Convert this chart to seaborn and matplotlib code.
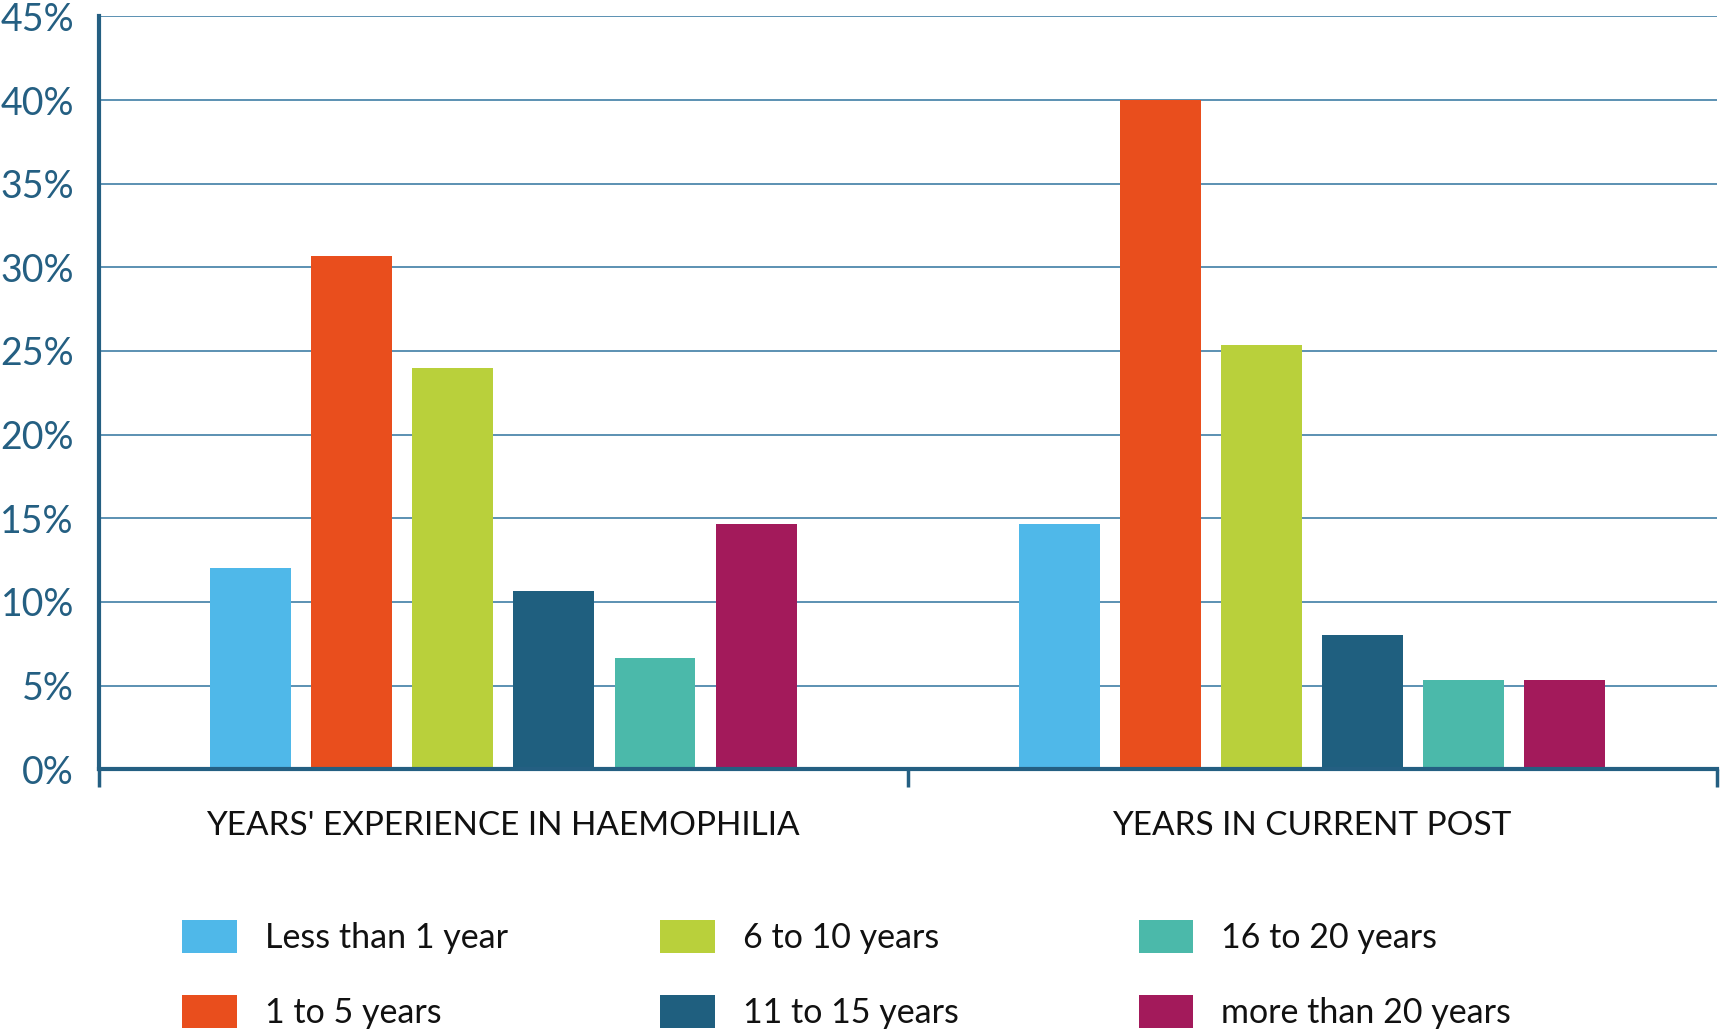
import matplotlib
matplotlib.use("Agg")
import matplotlib.pyplot as plt
from matplotlib.patches import Patch
import seaborn as sns
import pandas as pd

groups = ["YEARS' EXPERIENCE IN HAEMOPHILIA", "YEARS IN CURRENT POST"]
categories = ["Less than 1 year", "1 to 5 years", "6 to 10 years",
              "11 to 15 years", "16 to 20 years", "more than 20 years"]
experience_values = [12.0, 30.67, 24.0, 10.67, 6.67, 14.67]
post_values = [14.67, 40.0, 25.33, 8.0, 5.33, 5.33]
colors = ["#4FB8E9", "#E94E1D", "#B9D03B", "#1F5F7F", "#4BB9AA", "#A31A5B"]
y_ticks = [0, 5, 10, 15, 20, 25, 30, 35, 40, 45]

rows = []
for g, vals in zip(groups, [experience_values, post_values]):
    for c, v in zip(categories, vals):
        rows.append({"group": g, "category": c, "value": v})
df = pd.DataFrame(rows)

sns.set_style("white")
plt.rcParams["font.family"] = ["Lato", "DejaVu Sans"]

axis_color = "#245F82"
grid_color = "#3F7EA6"

fig = plt.figure(figsize=(17.2, 10.31), dpi=100)
ax = fig.add_axes([0.0575, 0.254, 0.9405, 0.730])

sns.barplot(data=df, x="group", y="value", hue="category", order=groups,
            hue_order=categories, palette=colors, saturation=1,
            width=0.75, gap=0.2, linewidth=0, legend=False, ax=ax, zorder=3)

ax.set_ylim(0, 45)
ax.set_xlim(-0.5, 1.5)
ax.set_yticks(y_ticks)
ax.set_yticklabels([f"{t}%" for t in y_ticks])
ax.yaxis.grid(True, color=grid_color, linewidth=1.2, zorder=0)
ax.set_axisbelow(True)
ax.set_xlabel("")
ax.set_ylabel("")

for side in ["top", "right"]:
    ax.spines[side].set_visible(False)
for side in ["left", "bottom"]:
    ax.spines[side].set_color(axis_color)
    ax.spines[side].set_linewidth(3)
    ax.spines[side].set_zorder(5)

ax.tick_params(axis="y", length=0, pad=18, labelsize=27, labelcolor=axis_color)
ax.tick_params(axis="x", which="major", bottom=True, length=0, pad=30,
               labelsize=24, labelcolor="#111111")
ax.set_xticks([-0.5, 0.5, 1.5], minor=True)
ax.tick_params(axis="x", which="minor", bottom=True, length=13, width=2.5,
               color=axis_color, direction="out")

handles = [Patch(facecolor=c, edgecolor="none") for c in colors]
col_x = [0.106, 0.384, 0.662]
for i, x in enumerate(col_x):
    leg = fig.legend(handles[2 * i:2 * i + 2], categories[2 * i:2 * i + 2],
                     loc="center left", bbox_to_anchor=(x, 0.0548),
                     frameon=False, fontsize=24.5, ncol=1,
                     handlelength=1.6, handleheight=1.1, handletextpad=0.82,
                     labelspacing=1.22, borderpad=0, borderaxespad=0)
    for t in leg.get_texts():
        t.set_color("#111111")

fig.savefig("out.png", dpi=100)
